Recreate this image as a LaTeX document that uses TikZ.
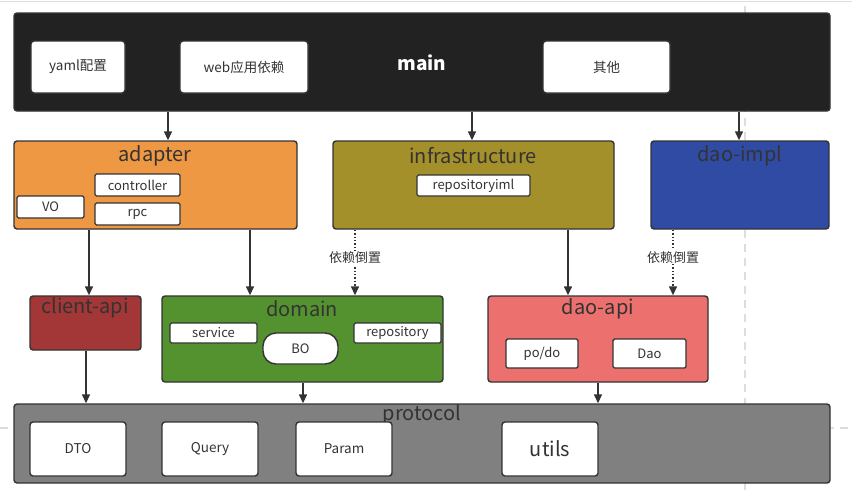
\documentclass[tikz,border=0pt]{standalone}
\usepackage{fontspec}
\setmainfont{Noto Sans CJK SC}
\usetikzlibrary{arrows.meta}
\definecolor{bd}{HTML}{333333}
\definecolor{cmain}{HTML}{222222}
\definecolor{cadapter}{HTML}{EE9844}
\definecolor{cinfra}{HTML}{A4902A}
\definecolor{cdaoimpl}{HTML}{304BA4}
\definecolor{cclient}{HTML}{A33636}
\definecolor{cdomain}{HTML}{53922F}
\definecolor{cdaoapi}{HTML}{EC706E}
\definecolor{cproto}{HTML}{808080}
\definecolor{guide}{HTML}{DDDDDD}
\tikzset{
  box/.style={draw=bd, line width=1.4pt, rounded corners=3pt, inner sep=0pt},
  inner/.style={draw=bd, line width=1.4pt, fill=white, rounded corners=1.5pt, inner sep=0pt, font=\fontsize{13}{15}\selectfont, text=bd},
  bigin/.style={inner, rounded corners=3pt, font=\fontsize{13.5}{15}\selectfont},
  title/.style={font=\fontsize{20}{22}\selectfont, text=bd, inner sep=0pt},
  arr/.style={draw=bd, line width=1.4pt, -{Triangle[length=9pt,width=8pt]}},
  dep/.style={draw=bd, line width=1.4pt, dotted, -{Triangle[length=9pt,width=8pt]}},
  deplabel/.style={fill=white, inner sep=1pt, font=\fontsize{13}{15}\selectfont, text=bd},
  guideline/.style={draw=guide, line width=2pt, dash pattern=on 8pt off 6pt}
}
\begin{document}
\begin{tikzpicture}[x=1pt,y=-1pt]
\useasboundingbox (0,0) rectangle (852,496);
% background guides
\draw[draw=guide, line width=1pt] (0,1) -- (852,1);
\draw[guideline] (745,6) -- (745,496);
\draw[guideline] (0,428) -- (852,428);
% main
\node[box, fill=cmain, minimum width=816pt, minimum height=98pt] (main) at (422,62) {};
\node[text=white, font=\fontsize{19}{21}\selectfont\bfseries, inner sep=0pt] (mainT) at (422,63) {main};
\node[bigin, minimum width=94pt, minimum height=52pt] (yaml) at (78,67) {yaml配置};
\node[bigin, minimum width=128pt, minimum height=52pt] (web) at (244,67) {web应用依赖};
\node[bigin, minimum width=127pt, minimum height=52pt] (other) at (606.5,67) {其他};
% adapter
\node[box, fill=cadapter, minimum width=283pt, minimum height=88pt] (adapter) at (155.5,185) {};
\node[title] (adapterT) at (155,156) {adapter};
\node[inner, minimum width=85pt, minimum height=22pt] (controller) at (137.5,185) {controller};
\node[inner, minimum width=85pt, minimum height=22pt] (rpc) at (137.5,214) {rpc};
\node[inner, minimum width=67pt, minimum height=22pt] (vo) at (50.5,207) {VO};
% infrastructure
\node[box, fill=cinfra, minimum width=281pt, minimum height=88pt] (infra) at (473.5,185) {};
\node[title] (infraT) at (473,156) {infrastructure};
\node[inner, minimum width=113pt, minimum height=21pt] (repoiml) at (473.5,185.5) {repositoryiml};
% dao-impl
\node[box, fill=cdaoimpl, minimum width=178pt, minimum height=88pt] (daoimpl) at (740,185) {};
\node[title] (daoimplT) at (740,156) {dao-impl};
% client-api
\node[box, fill=cclient, minimum width=111pt, minimum height=54pt] (client) at (85.5,323) {};
\node[title] (clientT) at (85,308) {client-api};
% domain
\node[box, fill=cdomain, minimum width=281pt, minimum height=86pt] (domain) at (302.5,339) {};
\node[title] (domainT) at (302,309) {domain};
\node[inner, minimum width=87pt, minimum height=20pt] (service) at (213.5,333) {service};
\node[inner, rounded corners=13pt, minimum width=75pt, minimum height=31pt] (bo) at (300.5,348.5) {BO};
\node[inner, minimum width=87pt, minimum height=20pt] (repository) at (397.5,333) {repository};
% dao-api
\node[box, fill=cdaoapi, minimum width=220pt, minimum height=86pt] (daoapi) at (598,339) {};
\node[title] (daoapiT) at (598,309) {dao-api};
\node[inner, minimum width=72pt, minimum height=29pt] (podo) at (542,353.5) {po/do};
\node[inner, minimum width=73pt, minimum height=29pt] (dao) at (649.5,353.5) {Dao};
% protocol
\node[box, fill=cproto, minimum width=816pt, minimum height=79pt] (proto) at (422,443.5) {};
\node[title] (protoT) at (422,415) {protocol};
\node[bigin, minimum width=96pt, minimum height=54pt] (dto) at (78,449) {DTO};
\node[bigin, minimum width=96pt, minimum height=54pt] (query) at (210,449) {Query};
\node[bigin, minimum width=96pt, minimum height=54pt] (param) at (344,449) {Param};
\node[bigin, minimum width=96pt, minimum height=54pt, font=\fontsize{20}{22}\selectfont] (utils) at (550,449) {utils};
% connector x positions
\coordinate (xa) at (168,0);
\coordinate (xb) at (472,0);
\coordinate (xc) at (739,0);
\coordinate (xd) at (89,0);
\coordinate (xe) at (250,0);
\coordinate (xf) at (355,0);
\coordinate (xg) at (568,0);
\coordinate (xh) at (673,0);
\coordinate (xi) at (86,0);
\coordinate (xj) at (303,0);
\coordinate (xk) at (598,0);
% connectors
\draw[arr] (xa |- main.south) -- (xa |- adapter.north);
\draw[arr] (xb |- main.south) -- (xb |- infra.north);
\draw[arr] (xc |- main.south) -- (xc |- daoimpl.north);
\draw[arr] (xd |- adapter.south) -- (xd |- client.north);
\draw[arr] (xe |- adapter.south) -- (xe |- domain.north);
\draw[dep] (xf |- infra.south) -- node[deplabel, pos=0.43] (dep1) {依赖倒置} (xf |- domain.north);
\draw[arr] (xg |- infra.south) -- (xg |- daoapi.north);
\draw[dep] (xh |- daoimpl.south) -- node[deplabel, pos=0.42] (dep2) {依赖倒置} (xh |- daoapi.north);
\draw[arr] (xi |- client.south) -- (xi |- proto.north);
\draw[arr] (xj |- domain.south) -- (xj |- proto.north);
\draw[arr] (xk |- daoapi.south) -- (xk |- proto.north);
\end{tikzpicture}
\end{document}
